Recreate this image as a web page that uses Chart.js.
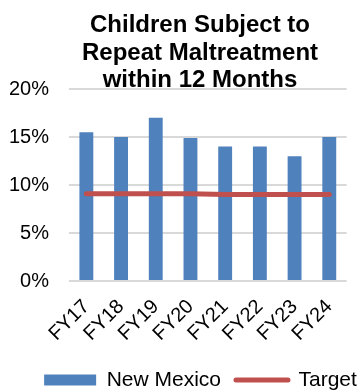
<!DOCTYPE html>
<html>
<head>
<meta charset="utf-8">
<script src="https://cdn.jsdelivr.net/npm/chart.js@4"></script>
<style>
  html, body { margin: 0; padding: 0; background: #fff; overflow: hidden; }
  #wrap { position: relative; width: 361px; height: 390px; }
  #title {
    position: absolute; left: 40px; top: 10px; width: 320px;
    text-align: center; font-family: "Liberation Sans", Arial, sans-serif;
    font-weight: bold; font-size: 24px; line-height: 27.5px; color: #000;
    pointer-events: none; z-index: 2;
  }
  canvas { position: absolute; left: 0; top: 0; }
</style>
</head>
<body>
<div id="wrap">
  <canvas id="c" width="361" height="390"></canvas>
  <div id="title">Children Subject to<br>Repeat Maltreatment<br>within 12 Months</div>
</div>
<script>
const categories = ['FY17', 'FY18', 'FY19', 'FY20', 'FY21', 'FY22', 'FY23', 'FY24'];
const newMexico = [15.5, 15.0, 17.0, 14.9, 14.0, 14.0, 13.0, 15.0];
const target = [9.1, 9.1, 9.1, 9.1, 9.0, 9.0, 9.0, 9.0];
const yTicks = [0, 5, 10, 15, 20];

const FONT = '"Liberation Sans", Arial, sans-serif';

const legendShift = {
  id: 'legendShift',
  afterLayout(chart) {
    const lg = chart.legend;
    if (lg) { lg.left += 26; lg.right += 26; }
  }
};

new Chart(document.getElementById('c'), {
  plugins: [legendShift],
  data: {
    labels: categories,
    datasets: [
      {
        type: 'bar',
        label: 'New Mexico',
        data: newMexico,
        backgroundColor: '#4F81BD',
        borderWidth: 0,
        barPercentage: 0.4,
        categoryPercentage: 1.0,
        order: 1
      },
      {
        type: 'line',
        label: 'Target',
        data: target,
        borderColor: '#C0504D',
        backgroundColor: '#C0504D',
        borderWidth: 5,
        borderCapStyle: 'round',
        pointRadius: 0,
        tension: 0,
        fill: false,
        order: 0
      }
    ]
  },
  options: {
    responsive: false,
    animation: false,
    devicePixelRatio: 1,
    layout: { padding: { top: 89, right: 12, left: 0, bottom: -10.5 } },
    plugins: {
      title: { display: false },
      tooltip: { enabled: false },
      legend: {
        position: 'bottom',
        labels: {
          font: { family: FONT, size: 21 },
          color: '#000',
          usePointStyle: true,
          pointStyleWidth: 52,
          boxHeight: 11,
          padding: 15,
          sort: (a, b) => a.datasetIndex - b.datasetIndex,
          generateLabels: (chart) => {
            const items = Chart.defaults.plugins.legend.labels.generateLabels(chart);
            items.forEach(it => {
              if (it.datasetIndex === 0) { it.pointStyle = 'rect'; it.lineWidth = 0; }
              else { it.pointStyle = 'line'; it.lineWidth = 5; it.lineCap = 'round'; it.strokeStyle = '#C0504D'; }
            });
            return items;
          }
        }
      }
    },
    scales: {
      x: {
        afterFit: (axis) => { axis.height = 73.5; },
        grid: { display: false, drawTicks: false },
        border: { display: false },
        ticks: {
          font: { family: FONT, size: 20 },
          color: '#000',
          autoSkip: false,
          minRotation: 45,
          maxRotation: 45,
          padding: 14
        }
      },
      y: {
        min: 0,
        max: 20,
        afterFit: (axis) => { axis.width = 69; },
        afterBuildTicks: (axis) => { axis.ticks = yTicks.map(v => ({ value: v })); },
        grid: { color: '#d9d9d9', lineWidth: 2, drawTicks: false },
        border: { display: false },
        ticks: {
          font: { family: FONT, size: 20 },
          color: '#000',
          padding: 20,
          callback: (v) => v + '%'
        }
      }
    }
  }
});
</script>
</body>
</html>
